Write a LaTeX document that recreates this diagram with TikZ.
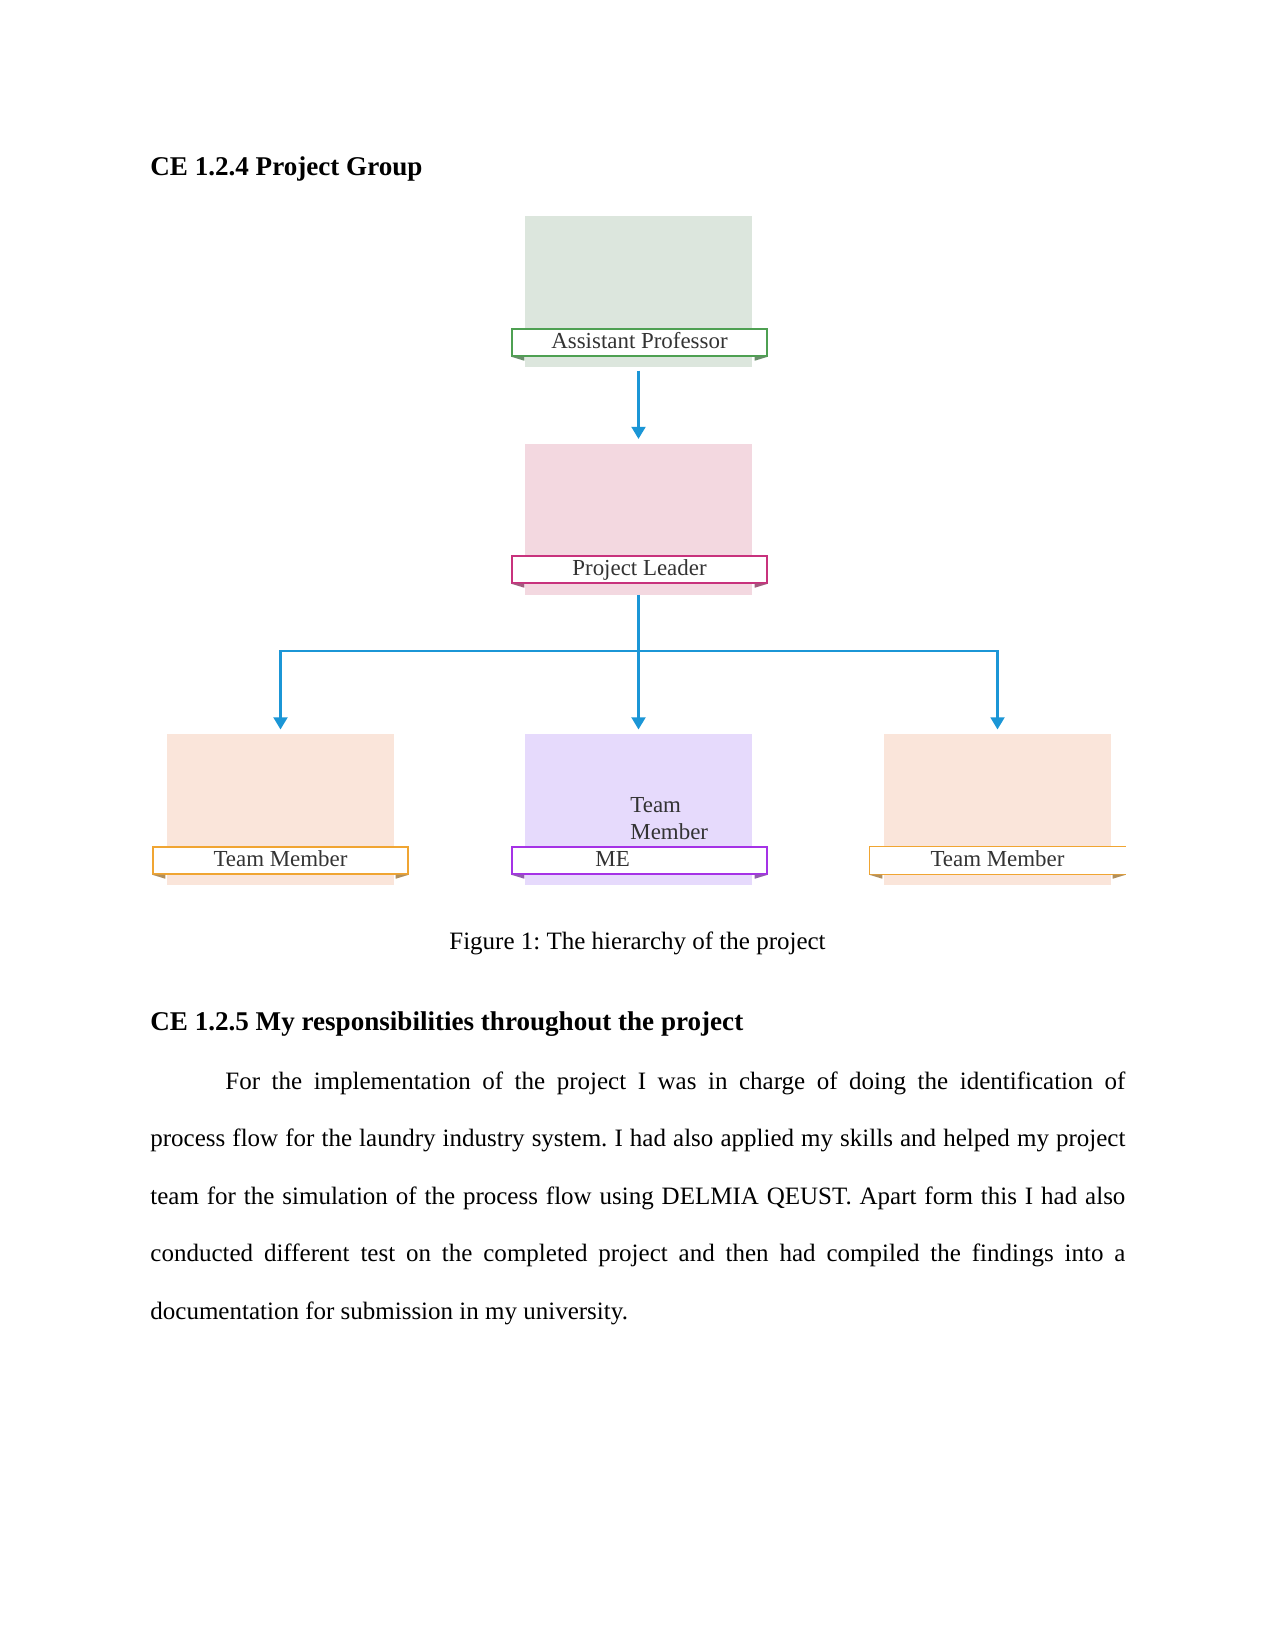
\documentclass[tikz,border=0pt]{standalone}
\usepackage{fontspec}
\setmainfont{Liberation Serif}
\usetikzlibrary{arrows.meta}
\frenchspacing

\definecolor{apfill}{RGB}{220,230,221}
\definecolor{apline}{RGB}{78,160,82}
\definecolor{plfill}{RGB}{243,216,224}
\definecolor{plline}{RGB}{200,50,125}
\definecolor{tmfill}{RGB}{250,229,218}
\definecolor{tmline}{RGB}{240,165,50}
\definecolor{mefill}{RGB}{230,218,252}
\definecolor{meline}{RGB}{165,50,230}
\definecolor{linkblue}{RGB}{27,150,214}

\begin{document}
\begin{tikzpicture}[x=0.48pt, y=-0.48pt,
    box/.style={minimum width=108.96pt, minimum height=72.48pt, inner sep=0pt},
    band/.style={fill=white, line width=0.7pt, minimum width=122.4pt, minimum height=12.96pt,
        inner sep=0pt, text height=8pt, text depth=2.5pt, text=black!80,
        font=\fontsize{11}{13}\selectfont},
    link/.style={draw=linkblue, line width=1pt, shorten >=2pt,
        -{Triangle[length=5.8pt,width=6.7pt]}},
    trunk/.style={draw=linkblue, line width=1.4pt},
    heading/.style={anchor=base west, inner sep=0pt, font=\bfseries\fontsize{13}{15}\selectfont},
    bodytext/.style={inner sep=0pt, font=\fontsize{12}{14}\selectfont}]

    % page
    \path[use as bounding box, fill=white] (0,0) rectangle (1275,1651);

    \node[heading] (head1) at (150,176) {CE 1.2.4 Project Group};

    % Boxes
    \node[box, fill=apfill] (apbox) at (638.5,291.5) {};
    \node[box, fill=plfill] (plbox) at (638.5,519) {};
    \node[box, fill=tmfill] (tm1box) at (280.5,809.5) {};
    \node[box, fill=mefill] (mebox) at (638.5,809.5) {};
    \node[box, fill=tmfill] (tm2box) at (997.5,809.5) {};

    % Second name inside the ME box
    \node[anchor=north west, inner sep=0pt, align=left, text=black!80,
        font=\fontsize{11}{13}\selectfont] (metitle) at (630,797) {Team\\Member};

    % Bands
    \node[band, draw=apline] (apband) at (639.5,342.5) {Assistant Professor};
    \node[band, draw=plline] (plband) at (639.5,569.5) {Project Leader};
    \node[band, draw=tmline] (tm1band) at (280.5,860.5) {Team Member};
    \node[band, draw=meline] (meband) at (639.5,860.5) {};
    \node[band] (tm2band) at (997.5,860.5) {Team Member};
    \draw[tmline, line width=0.7pt] (tm2band.north east) -- (tm2band.north west)
        -- (tm2band.south west) -- (tm2band.south east);
    \node[anchor=base west, inner sep=0pt, text=black!80,
        font=\fontsize{11}{13}\selectfont] (melabel) at (595,866) {ME};

    % small folds under the band ends
    \foreach \b/\c in {apband/apline, plband/plline, tm1band/tmline, meband/meline, tm2band/tmline} {
        \fill[\c!45!gray] (\b.south west) -- ++(13,0) -- ++(0,4) -- cycle;
        \fill[\c!45!gray] (\b.south east) -- ++(-13,0) -- ++(0,4) -- cycle;
    }

    % Connectors
    \draw[link, shorten <=1.5pt] (apbox.south) -- (plbox.north);
    \coordinate (hub) at (638.5,651);
    \draw[trunk] (plbox.south) -- (hub);
    \draw[link] (hub) -| (tm1box.north);
    \draw[link] (hub) -- (mebox.north);
    \draw[link] (hub) -| (tm2box.north);

    \node[bodytext, anchor=base] (caption) at (637.5,949) {Figure 1: The hierarchy of the project};

    \node[heading] (head2) at (150,1030) {CE 1.2.5 My responsibilities throughout the project};

    \node[bodytext, anchor=base west, text width=468pt, align=justify,
        font=\fontsize{12}{27.6}\selectfont] (para) at (150,1089)
        {\hspace*{36pt}For the implementation of the project I was in charge of doing the identification of\linebreak
        process flow for the laundry industry system. I had also applied my skills and helped my project\linebreak
        team for the simulation of the process flow using DELMIA QEUST. Apart form this I had also\linebreak
        conducted different test on the completed project and then had compiled the findings into a\linebreak
        documentation for submission in my university.};
\end{tikzpicture}
\end{document}
